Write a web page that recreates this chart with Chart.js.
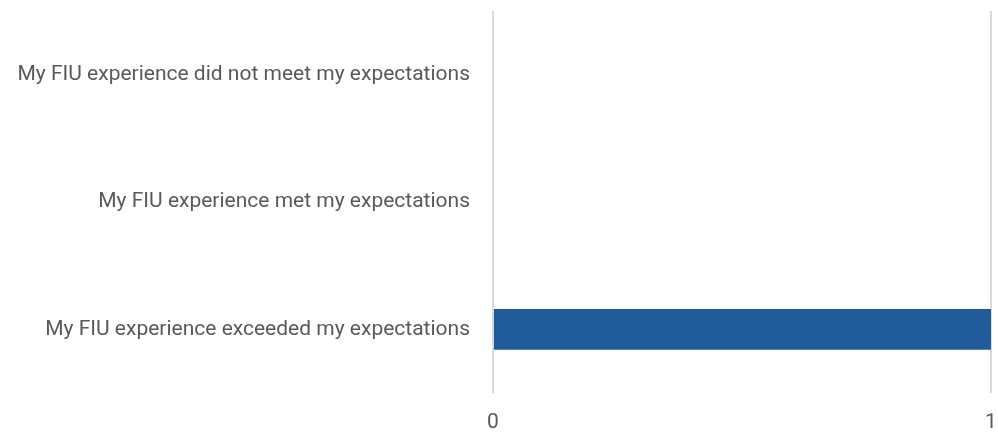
<!DOCTYPE html>
<html>
<head>
<meta charset="utf-8">
<script src="https://cdn.jsdelivr.net/npm/chart.js@4"></script>
<style>
  html, body { margin: 0; padding: 0; background: #fff; }
  #wrap { width: 998px; height: 433px; }
</style>
</head>
<body>
<div id="wrap"><canvas id="chart" width="998" height="433"></canvas></div>
<script>
const categories = [
  "My FIU experience did not meet my expectations",
  "My FIU experience met my expectations",
  "My FIU experience exceeded my expectations"
];
const counts = [0, 0, 1];
const xTicks = [0, 1];

const textColor = "#595959";
const labelFont = { family: "Roboto, sans-serif", size: 21 };

new Chart(document.getElementById("chart").getContext("2d"), {
  type: "bar",
  data: {
    labels: categories,
    datasets: [{
      data: counts,
      backgroundColor: "#1F5C99",
      borderWidth: 0,
      barPercentage: 0.32,
      categoryPercentage: 1
    }]
  },
  options: {
    indexAxis: "y",
    responsive: false,
    animation: false,
    layout: { padding: { top: 11, right: 7, left: 0, bottom: 0 } },
    plugins: { legend: { display: false }, tooltip: { enabled: false } },
    scales: {
      x: {
        min: 0,
        max: 1,
        afterBuildTicks: (scale) => { scale.ticks = xTicks.map(v => ({ value: v })); },
        afterFit: (scale) => {
          scale.height = 40;
          scale.paddingLeft = 0;
          scale.paddingRight = 0;
        },
        grid: { color: "#d9d9d9", lineWidth: 2, drawTicks: false },
        border: { display: false },
        ticks: {
          color: textColor,
          padding: 17,
          font: labelFont
        }
      },
      y: {
        afterFit: (scale) => {
          scale.width = 493;
          scale.paddingTop = 0;
          scale.paddingBottom = 0;
        },
        grid: { display: false, drawTicks: false },
        border: { display: false },
        ticks: {
          color: textColor,
          padding: 23,
          font: labelFont
        }
      }
    }
  }
});
</script>
</body>
</html>
